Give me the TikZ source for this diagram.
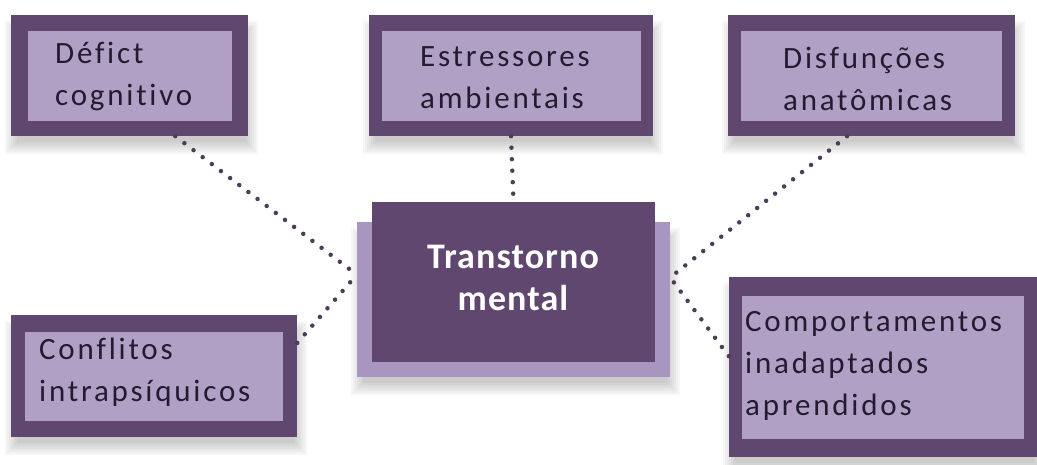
\documentclass[tikz,border=0pt]{standalone}
\usepackage{fontspec}
\setmainfont{Carlito}[LetterSpace=9, Ligatures={NoCommon, NoRequired, NoContextual}]
\newfontfamily\titlefont{Carlito}[LetterSpace=3, Ligatures={NoCommon}]

\definecolor{roxo}{HTML}{5F4770}
\definecolor{lilas}{HTML}{B1A0C5}
\definecolor{lilasb}{HTML}{A996C0}
\definecolor{texto}{HTML}{241B30}
\definecolor{ponto}{HTML}{4D3D57}

\tikzset{
    sombra/.style={fill=black, opacity=0.03, inner sep=0pt},
    caixa/.style={fill=roxo, inner sep=0pt},
    miolo/.style={fill=lilas, inner sep=0pt},
    rotulo/.style={text=texto, align=left, inner sep=0pt, anchor=west,
        font=\fontsize{31}{42}\selectfont},
    ligacao/.style={draw=ponto, line width=4.5pt, line cap=round, dash pattern=on 0pt off 11.5pt}
}

\begin{document}
\begin{tikzpicture}[x=1pt, y=-1pt]
        \useasboundingbox (0,0) rectangle (1037,464);

        % Sombras
        \foreach \bx/\by/\bw/\bh in {129.5/75.5/237/121, 511/75.5/284/121, 871.5/75.5/287/121,
                154/376/286/122, 883/367/308/180, 513.5/299.5/313/155} {
            \foreach \k in {0,2,...,12}
                \fill[sombra] (\bx-\bw/2+6-\k,\by-\bh/2+18-\k) rectangle (\bx+\bw/2-2+\k,\by+\bh/2+6+\k);
        }

        % Caixas externas
        \node[caixa, minimum width=237pt, minimum height=121pt] (def) at (129.5,75.5) {};
        \node[miolo, minimum width=204pt, minimum height=90pt] (def-m) at (def) {};
        \node[rotulo] (def-t) at (55,76) {Défict\\cognitivo};

        \node[caixa, minimum width=284pt, minimum height=121pt] (est) at (511,75.5) {};
        \node[miolo, minimum width=259pt, minimum height=90pt] (est-m) at (est) {};
        \node[rotulo] (est-t) at (420,78) {Estressores\\ambientais};

        \node[caixa, minimum width=287pt, minimum height=121pt] (dis) at (871.5,75.5) {};
        \node[miolo, minimum width=261pt, minimum height=90pt] (dis-m) at (dis) {};
        \node[rotulo] (dis-t) at (783,79) {Disfunções\\anatômicas};

        \node[caixa, minimum width=286pt, minimum height=122pt] (con) at (154,376) {};
        \node[miolo, minimum width=258pt, minimum height=89pt] (con-m) at (con) {};
        \node[rotulo] (con-t) at (39,372) {Conflitos\\intrapsíquicos};

        \node[caixa, minimum width=308pt, minimum height=180pt] (com) at (883,367) {};
        \node[miolo, minimum width=282pt, minimum height=143pt] (com-m) at (com) {};
        \node[rotulo] (com-t) at (745,366) {Comportamentos\\inadaptados\\aprendidos};

        % Caixa central
        \node[fill=lilasb, inner sep=0pt, minimum width=313pt, minimum height=155pt] (tmback) at (513.5,299.5) {};
        \node[caixa, minimum width=283pt, minimum height=160pt] (tm) at (513.5,282) {};
        \node[text=white, align=center, inner sep=0pt, font=\titlefont\bfseries\fontsize{36}{42}\selectfont] (tm-t) at (513,278) {Transtorno\\mental};

        % Ligacoes
        \draw[ligacao] (def.-53) -- (tmback.171.8);
        \draw[ligacao] (con.13.4) -- (tmback.171.8);
        \draw[ligacao] (est.south) -- (tm.north);
        \draw[ligacao] (dis.-112) -- (tmback.8.2);
        \draw[ligacao] (com.176.3) -- (tmback.8.2);
    \end{tikzpicture}
\end{document}
